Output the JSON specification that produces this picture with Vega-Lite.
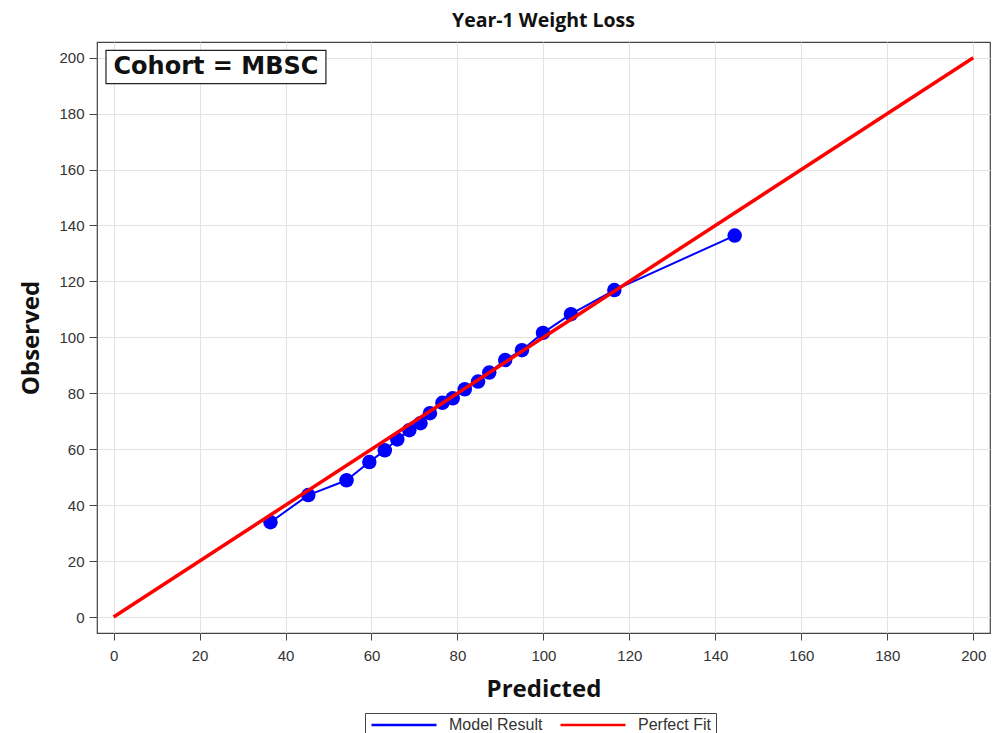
{
  "$schema": "https://vega.github.io/schema/vega-lite/v6.json",
  "autosize": "none",
  "width": 893,
  "height": 591,
  "padding": {"left": 97, "top": 42, "right": 7, "bottom": 100},
  "background": "white",
  "title": {"text": "Year-1 Weight Loss", "font": "Open Sans", "fontSize": 19.5, "fontWeight": "bold", "color": "#111", "offset": 11, "anchor": "middle"},
  "config": {
    "view": {"stroke": "#444", "strokeWidth": 1.2},
    "axis": {
      "domain": false,
      "grid": true,
      "gridColor": "#e3e3e3",
      "gridWidth": 1,
      "tickColor": "#444",
      "tickSize": 7,
      "labelFont": "Liberation Sans",
      "labelFontSize": 15,
      "labelColor": "#333",
      "titleFont": "Open Sans",
      "titleFontSize": 24,
      "titleFontWeight": "bold",
      "titleColor": "#111"
    },
    "legend": {
      "orient": "none",
      "legendX": 268,
      "legendY": 671,
      "direction": "horizontal",
      "strokeColor": "#444",
      "padding": 5,
      "symbolType": "stroke",
      "symbolSize": 4225,
      "clipHeight": 14,
      "symbolStrokeWidth": 2.5,
      "labelFont": "Liberation Sans",
      "labelFontSize": 16,
      "labelColor": "#333",
      "columnPadding": 16,
      "labelOffset": 11
    }
  },
  "datasets": {
    "model": [
      {"predicted": 36.5, "observed": 33.9},
      {"predicted": 45.3, "observed": 43.6},
      {"predicted": 54.2, "observed": 48.9},
      {"predicted": 59.5, "observed": 55.4},
      {"predicted": 63.1, "observed": 59.6},
      {"predicted": 66.0, "observed": 63.5},
      {"predicted": 68.8, "observed": 66.8},
      {"predicted": 71.4, "observed": 69.3},
      {"predicted": 73.6, "observed": 72.9},
      {"predicted": 76.5, "observed": 76.6},
      {"predicted": 78.9, "observed": 78.2},
      {"predicted": 81.7, "observed": 81.4},
      {"predicted": 84.8, "observed": 84.2},
      {"predicted": 87.4, "observed": 87.4},
      {"predicted": 91.1, "observed": 91.9},
      {"predicted": 95.0, "observed": 95.4},
      {"predicted": 99.9, "observed": 101.6},
      {"predicted": 106.4, "observed": 108.3},
      {"predicted": 116.5, "observed": 116.9},
      {"predicted": 144.5, "observed": 136.4}
    ],
    "fit": [
      {"predicted": 0, "observed": 0},
      {"predicted": 200, "observed": 200}
    ]
  },
  "layer": [
    {
      "data": {"name": "model"},
      "transform": [{"calculate": "'Model Result'", "as": "series"}],
      "mark": {"type": "line", "strokeWidth": 2},
      "encoding": {
        "x": {"field": "predicted", "type": "quantitative", "title": "Predicted",
              "scale": {"domain": [-3.86, 203.9], "nice": false, "zero": false},
              "axis": {"values": [0, 20, 40, 60, 80, 100, 120, 140, 160, 180, 200], "labelPadding": 8, "titlePadding": 14}},
        "y": {"field": "observed", "type": "quantitative", "title": "Observed",
              "scale": {"domain": [-5.71, 205.6], "nice": false, "zero": false},
              "axis": {"values": [0, 20, 40, 60, 80, 100, 120, 140, 160, 180, 200], "tickSize": 8, "labelPadding": 5, "titlePadding": 15}},
        "color": {"field": "series", "type": "nominal", "title": null,
                  "scale": {"domain": ["Model Result", "Perfect Fit"], "range": ["#0000ff", "#ff0000"]}},
        "order": {"field": "predicted", "type": "quantitative"}
      }
    },
    {
      "data": {"name": "model"},
      "mark": {"type": "point", "shape": "circle", "filled": true, "size": 210, "opacity": 1, "color": "#0000ff"},
      "encoding": {
        "x": {"field": "predicted", "type": "quantitative"},
        "y": {"field": "observed", "type": "quantitative"}
      }
    },
    {
      "data": {"name": "fit"},
      "transform": [{"calculate": "'Perfect Fit'", "as": "series"}],
      "mark": {"type": "line", "strokeWidth": 3.5},
      "encoding": {
        "x": {"field": "predicted", "type": "quantitative"},
        "y": {"field": "observed", "type": "quantitative"},
        "color": {"field": "series", "type": "nominal"}
      }
    },
    {
      "data": {"values": [{}]},
      "mark": {"type": "rect", "fill": "white", "stroke": "#222", "strokeWidth": 1.2},
      "encoding": {
        "x": {"datum": -1.77, "type": "quantitative"},
        "x2": {"datum": 49.4},
        "y": {"datum": 202.6, "type": "quantitative"},
        "y2": {"datum": 190.7}
      }
    },
    {
      "data": {"values": [{}]},
      "mark": {"type": "text", "text": "Cohort = MBSC", "font": "DejaVu Sans", "fontSize": 24, "fontWeight": "bold", "color": "#111", "align": "center", "baseline": "middle"},
      "encoding": {
        "x": {"datum": 23.8, "type": "quantitative"},
        "y": {"datum": 196.5, "type": "quantitative"}
      }
    }
  ]
}
